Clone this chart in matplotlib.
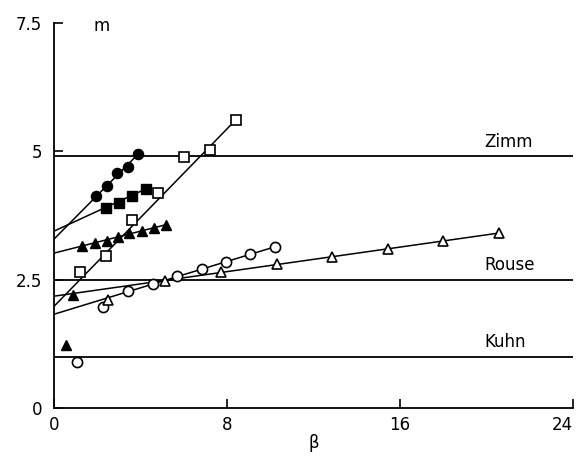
import matplotlib
matplotlib.use('Agg')
import matplotlib.pyplot as plt

# filled circles
fc_x = [1.91, 2.42, 2.88, 3.39, 3.88]
fc_y = [4.13, 4.33, 4.58, 4.69, 4.95]
fc_fit_x = [0, 3.88]
fc_fit_y = [3.30, 4.95]

# filled squares
fs_x = [2.38, 2.99, 3.60, 4.24]
fs_y = [3.90, 4.00, 4.14, 4.27]
fs_fit_x = [0, 4.24]
fs_fit_y = [3.45, 4.27]

# filled triangles
ft_x = [1.29, 1.88, 2.42, 2.95, 3.45, 4.06, 4.61, 5.15]
ft_y = [3.16, 3.21, 3.26, 3.34, 3.41, 3.44, 3.51, 3.57]
ft_fit_x = [0, 5.15]
ft_fit_y = [3.02, 3.57]
# two lone filled triangles
ft2_x = [0.87, 0.52]
ft2_y = [2.20, 1.23]

# open squares
os_x = [1.18, 2.38, 3.60, 4.78, 6.01, 7.20, 8.39]
os_y = [2.64, 2.96, 3.66, 4.19, 4.89, 5.03, 5.61]
os_fit_x = [0, 8.5]
os_fit_y = [1.99, 5.66]

# open circles
oc_x = [2.26, 3.39, 4.56, 5.67, 6.81, 7.93, 9.05, 10.21, 1.04]
oc_y = [1.97, 2.28, 2.41, 2.57, 2.70, 2.84, 3.00, 3.14, 0.90]
oc_fit_x = [0, 10.2]
oc_fit_y = [1.83, 3.14]

# open triangles
ot_x = [2.49, 5.12, 7.69, 10.29, 12.86, 15.43, 18.0, 20.58]
ot_y = [2.11, 2.48, 2.64, 2.80, 2.95, 3.10, 3.26, 3.41]
ot_fit_x = [0, 20.6]
ot_fit_y = [2.18, 3.41]

# reference levels
levels = [4.9, 2.5, 1.0]
level_names = ['Zimm', 'Rouse', 'Kuhn']
level_text_y = [5.19, 2.79, 1.29]

plt.rcParams['font.family'] = 'DejaVu Sans'
fig = plt.figure(figsize=(5.79, 4.67), dpi=100)
ax1 = fig.add_axes([0.0941, 0.1263, 0.8955, 0.8244])

for y in levels:
    ax1.plot([0, 24], [y, y], '-k', lw=1.3)
for name, ty in zip(level_names, level_text_y):
    ax1.text(19.9, ty, name, fontsize=12, va='center', ha='left')

fits = [(fc_fit_x, fc_fit_y), (fs_fit_x, fs_fit_y), (ft_fit_x, ft_fit_y),
        (os_fit_x, os_fit_y), (oc_fit_x, oc_fit_y), (ot_fit_x, ot_fit_y)]
for fx, fy in fits:
    ax1.plot(fx, fy, '-k', lw=1.1)

ms = 7.3
ax1.plot(fc_x, fc_y, 'o', color='k', ms=ms, ls='none')
ax1.plot(fs_x, fs_y, 's', color='k', ms=ms, ls='none')
ax1.plot(ft_x, ft_y, '^', color='k', ms=ms, ls='none')
ax1.plot(ft2_x, ft2_y, '^', color='k', ms=ms, ls='none')
ax1.plot(os_x, os_y, 's', mfc='white', mec='k', mew=1.2, ms=ms, ls='none')
ax1.plot(oc_x, oc_y, 'o', mfc='white', mec='k', mew=1.2, ms=ms, ls='none')
ax1.plot(ot_x, ot_y, '^', mfc='white', mec='k', mew=1.2, ms=ms, ls='none')

ax1.set_xlim(0, 24)
ax1.set_ylim(0, 7.5)
ax1.set_xticks([0, 8, 16, 24])
ax1.set_yticks([0, 2.5, 5, 7.5])
ax1.set_yticklabels(['0', '2.5', '5', '7.5'])
ax1.tick_params(direction='in', length=6.5, width=1.2, labelsize=12)
ax1.tick_params(axis='x', pad=6)
ax1.tick_params(axis='y', pad=9)
ax1.get_xticklabels()[-1].set_horizontalalignment('right')
ax1.spines['top'].set_visible(False)
ax1.spines['right'].set_visible(False)
ax1.spines['left'].set_linewidth(1.3)
ax1.spines['bottom'].set_linewidth(1.3)

ax1.text(2.2, 7.45, 'm', fontsize=12, ha='center', va='center')
ax1.set_xlabel('\u03b2', fontsize=12, labelpad=0)

fig.savefig('out.png', dpi=100)
